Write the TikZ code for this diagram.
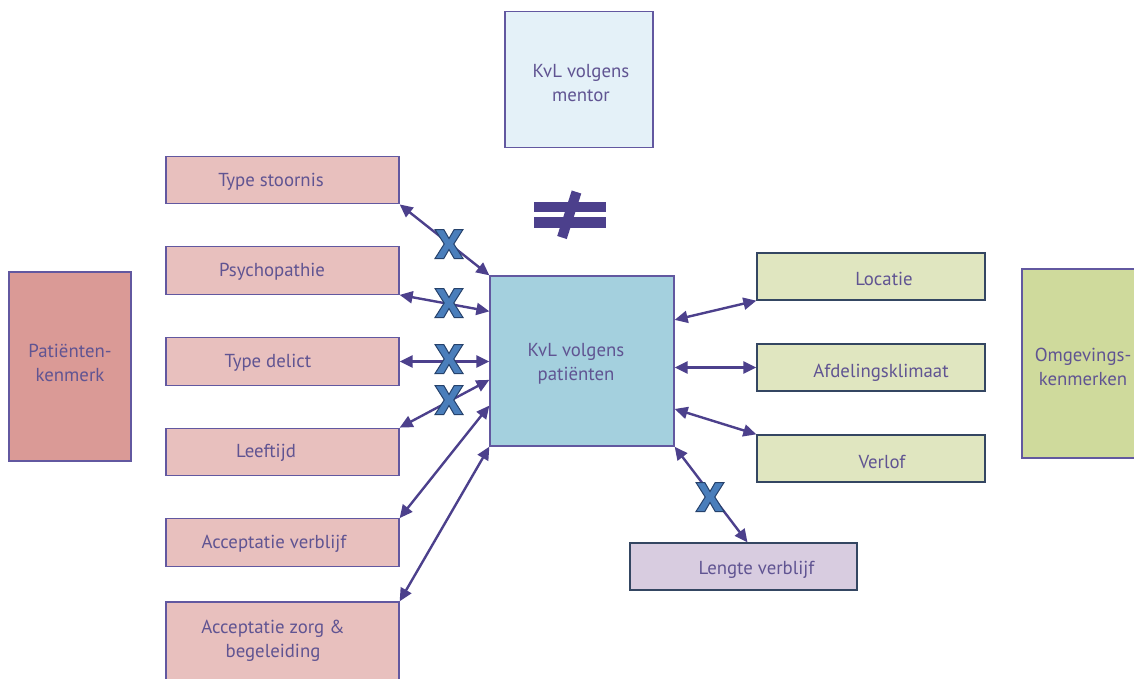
\documentclass[tikz,border=0pt]{standalone}
\usepackage{fontspec}
\setmainfont{PT Sans}
\usetikzlibrary{arrows.meta,calc}
\definecolor{textc}{RGB}{96,84,146}
\definecolor{bordc}{RGB}{98,88,160}
\definecolor{darkb}{RGB}{52,70,98}
\definecolor{arrc}{RGB}{76,64,140}
\definecolor{pinkf}{RGB}{232,192,190}
\definecolor{dpinkf}{RGB}{218,154,150}
\definecolor{tealf}{RGB}{164,208,222}
\definecolor{mentf}{RGB}{228,241,248}
\definecolor{greenf}{RGB}{224,230,192}
\definecolor{dgreenf}{RGB}{207,218,156}
\definecolor{lavf}{RGB}{216,204,224}
\definecolor{xfill}{RGB}{74,126,187}
\definecolor{xline}{RGB}{38,66,108}
\begin{document}
\begin{tikzpicture}[x=1pt,y=-1pt,
  box/.style={draw=bordc, line width=1.3pt, inner sep=0pt},
  lbl/.style={inner sep=0pt, yshift=-2pt, font=\fontsize{18.8}{24}\selectfont, text=textc, align=center},
  pinkbox/.style={box, fill=pinkf, minimum width=233pt, minimum height=47.5pt},
  greenbox/.style={box, draw=darkb, fill=greenf, minimum width=228pt, minimum height=47pt},
  arr/.style={{Triangle[length=13pt,width=12pt]}-{Triangle[length=13pt,width=12pt]}, line width=2.4pt, draw=arrc},
  xmark/.pic={\filldraw[fill=xfill, draw=xline, line width=1pt]
     (-14,-14.5) -- (-5.2,-14.5) -- (0,-5.5) -- (5.2,-14.5) -- (14,-14.5) -- (4.8,0)
     -- (14,14.5) -- (5.2,14.5) -- (0,5.5) -- (-5.2,14.5) -- (-14,14.5) -- (-4.8,0) -- cycle;}
]
\clip (0,0) rectangle (1134,678);
\fill[white] (0,0) rectangle (1134,678);

% left boxes
\node[pinkbox] (ts) at (282.5,180) {};
\node[pinkbox] (ps) at (282.5,270.5) {};
\node[pinkbox] (td) at (282.5,361.5) {};
\node[pinkbox] (lf) at (282.5,452) {};
\node[pinkbox] (av) at (282.5,542.5) {};
\node[pinkbox, minimum height=80pt] (az) at (282.5,642) {};
\node[lbl] (tsL) at (271,180) {Type stoornis};
\node[lbl] (psL) at (272,270) {Psychopathie};
\node[lbl] (tdL) at (268,361) {Type delict};
\node[lbl] (lfL) at (266,451) {Leeftijd};
\node[lbl] (avL) at (274,542) {Acceptatie verblijf};
\node[lbl] (azL) at (273,639) {Acceptatie zorg \&\\begeleiding};

\node[box, fill=dpinkf, minimum width=122pt, minimum height=189pt] (pk) at (70,366.5) {};
\node[lbl] (pkL) at (70,361) {Patiënten-\\kenmerk};

% centre
\node[box, fill=tealf, minimum width=184pt, minimum height=170pt] (kvl) at (582,361) {};
\node[lbl] (kvlL) at (576,362) {KvL volgens\\patiënten};
\node[box, fill=mentf, minimum width=148pt, minimum height=136pt] (men) at (579,79.5) {};
\node[lbl] (menL) at (581,81) {KvL volgens\\mentor};

% right boxes
\node[greenbox] (loc) at (871,276.5) {};
\node[greenbox] (afd) at (871,367.5) {};
\node[greenbox] (vl) at (871,458.5) {};
\node[lbl] (locL) at (884,277) {Locatie};
\node[lbl] (afdL) at (881,371) {Afdelingsklimaat};
\node[lbl] (vlL) at (882,460) {Verlof};
\node[box, fill=dgreenf, minimum width=122pt, minimum height=189pt] (om) at (1083,363.5) {};
\node[lbl] (omL) at (1083,365) {Omgevings-\\kenmerken};
\node[box, draw=darkb, fill=lavf, minimum width=227pt, minimum height=47pt] (len) at (743.5,566.5) {};
\node[lbl] (lenL) at (756.5,568) {Lengte verblijf};

% connectors
\draw[arr] (ts.south east) -- (kvl.north west);
\draw[arr] (ps.south east) -- ($(kvl.north west)!0.21!(kvl.south west)$);
\draw[arr] (td.east) -- (kvl.west |- td.east);
\draw[arr] (lf.north east) -- ($(kvl.north west)!0.61!(kvl.south west)$);
\draw[arr] (av.north east) -- ($(kvl.north west)!0.76!(kvl.south west)$);
\draw[arr] (az.north east) -- (kvl.south west);
\draw[arr] ($(kvl.north east)!0.26!(kvl.south east)$) -- (loc.south west);
\draw[arr] (kvl.east |- afd.west) -- (afd.west);
\draw[arr] ($(kvl.north east)!0.78!(kvl.south east)$) -- (vl.north west);
\draw[arr] (kvl.south east) -- ($(len.north)+(4,0)$);

% X marks
\pic at (449,244) {xmark};
\pic at (449,303) {xmark};
\pic at (449,359) {xmark};
\pic at (449,400) {xmark};
\pic at (710,497) {xmark};

% not-equal sign
\fill[arrc] (534,202) rectangle (606,212);
\fill[arrc] (534,217) rectangle (606,228);
\draw[arrc, line width=10pt] (576.5,192) -- (562,237.5);
\end{tikzpicture}
\end{document}
